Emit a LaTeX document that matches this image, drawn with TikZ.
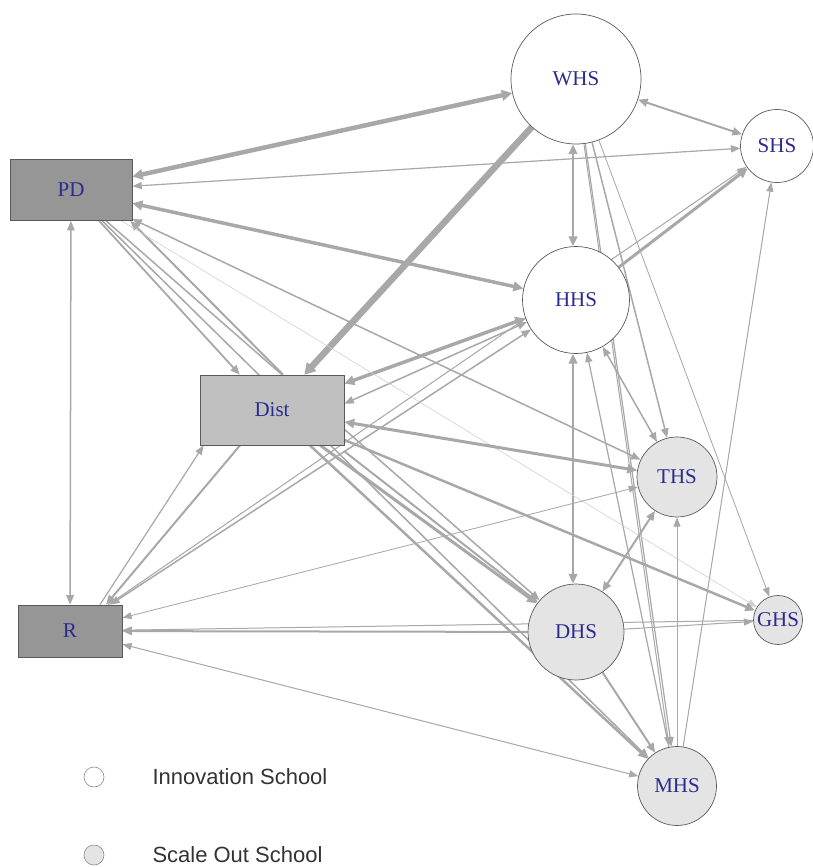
\documentclass[tikz,border=0pt]{standalone}
\usepackage{fontspec}
\setmainfont{Liberation Serif}
\newfontfamily\keyfont{Liberation Sans}
\usepackage{tikz}
\usetikzlibrary{arrows.meta,positioning,backgrounds}
\definecolor{linkgray}{HTML}{A8A8A8}
\definecolor{darkbox}{HTML}{969696}
\definecolor{lightbox}{HTML}{C0C0C0}
\definecolor{scalefill}{HTML}{E4E4E4}
\definecolor{labelblue}{HTML}{2B2B8F}
\definecolor{rimgray}{HTML}{5A5A5A}

\tikzset{
  >={Triangle[length=9pt 0.3,width=6pt 1]},
  lbl/.style={text=labelblue,font=\fontsize{21}{24}\selectfont},
  officebox/.style={lbl,rectangle,draw=rimgray,line width=0.7pt,inner sep=0pt},
  innov/.style={lbl,circle,draw=rimgray,line width=0.7pt,fill=white,inner sep=0pt},
  scaleout/.style={innov,fill=scalefill},
  keydot/.style={circle,draw=rimgray!70,line width=0.6pt,minimum size=20pt,inner sep=0pt},
  keytext/.style={font=\keyfont\fontsize{22}{24}\selectfont,text=black!80,inner sep=0pt,anchor=west},
  tie/.style={draw=linkgray,fill=linkgray,line width=#1},
  tie/.default=1.5pt,
}

\begin{document}
\begin{tikzpicture}[x=1pt,y=-1pt]
  \useasboundingbox (0,0) rectangle (813,867);
  % offices
  \node[officebox,fill=darkbox,minimum width=122pt,minimum height=61pt] (PD) at (71,190) {PD};
  \node[officebox,fill=lightbox,minimum width=144pt,minimum height=70pt] (Dist) at (272,410) {Dist};
  \node[officebox,fill=darkbox,minimum width=104pt,minimum height=52pt] (R) at (70,631) {R};
  % schools
  \node[innov,minimum size=130pt] (WHS) at (576,79) {WHS};
  \node[innov,minimum size=73pt] (SHS) at (777,146) {SHS};
  \node[innov,minimum size=107pt] (HHS) at (576,300) {HHS};
  \node[scaleout,minimum size=80pt] (THS) at (677,477) {THS};
  \node[scaleout,minimum size=96pt] (DHS) at (576,632) {DHS};
  \node[scaleout,minimum size=49pt] (GHS) at (778,620) {GHS};
  \node[scaleout,minimum size=79pt] (MHS) at (677,786) {MHS};
  % legend
  \node[keydot,fill=white] (keyInnov) at (94,777) {};
  \node[keytext,right=48pt of keyInnov] (keyInnovText) {Innovation School};
  \node[keydot,fill=scalefill] (keyScale) at (94,855) {};
  \node[keytext,right=48pt of keyScale] (keyScaleText) {Scale Out School};
  % ties
  \begin{scope}[on background layer]
    \draw[tie=4.5pt,<->] (WHS) -- (PD);
    \draw[tie=6.5pt,->] (WHS) -- (Dist);
    \draw[tie=2pt,<->] (WHS) -- (SHS);
    \draw[tie=2.5pt,<->] ([xshift=-3pt]WHS.south) -- ([xshift=-3pt]HHS.north);
    \draw[tie,->] (WHS) -- (THS);
    \draw[tie=1.2pt,->] (WHS) -- (MHS);
    \draw[tie=1pt,->] ([xshift=8pt]WHS.south) -- ([xshift=-8pt]MHS.north);
    \draw[tie=0.8pt,->] (WHS) -- (GHS);
    \draw[tie=1.2pt,<->] (SHS) -- (PD);
    \draw[tie=3.5pt,<->] (HHS) -- (PD);
    \draw[tie=3pt,->] (HHS) -- (SHS);
    \draw[tie=1pt,->] (R) -- (SHS);
    \draw[tie=1pt,->] (MHS) -- (SHS);
    \draw[tie=3.5pt,<->] (HHS) -- (Dist.20);
    \draw[tie,<->] (HHS) -- (Dist.5);
    \draw[tie,<->] (R) -- (HHS);
    \draw[tie=2.5pt,<->] ([xshift=-3pt]HHS.south) -- ([xshift=-3pt]DHS.north);
    \draw[tie,<->] (HHS) -- (THS);
    \draw[tie=1.2pt,->] (MHS) -- (HHS);
    \draw[tie=1.8pt,->] (PD) -- (Dist);
    \draw[tie=2pt,->] ([xshift=11pt]Dist.north) -- ([xshift=-2pt]PD.south east);
    \draw[tie,->] (PD) -- (MHS);
    \draw[tie,->] (PD) -- (DHS);
    \draw[tie,<->] (PD) -- (R);
    \draw[tie,<->] (THS) -- (PD);
    \draw[tie=0.5pt,draw=linkgray!55,fill=linkgray!55,->] (PD) -- (GHS);
    \draw[tie=3pt,<->] (Dist) -- (THS);
    \draw[tie=2.5pt,->] (Dist) -- (GHS);
    \draw[tie=3pt,->] (Dist) -- (DHS);
    \draw[tie=2pt,->] ([yshift=-6pt]Dist.south east) -- (DHS);
    \draw[tie=2.5pt,->] (Dist) -- (MHS);
    \draw[tie=2pt,->] ([xshift=-32pt]Dist.south) -- ([xshift=36pt]R.north);
    \draw[tie=1.2pt,->] ([xshift=30pt]R.north) -- ([xshift=4pt]Dist.south west);
    \draw[tie=0.8pt,<->] (THS) -- (R);
    \draw[tie=2pt,->] (DHS) -- (R);
    \draw[tie=1pt,->] (GHS) -- (R);
    \draw[tie=1pt,->] (DHS) -- (GHS);
    \draw[tie=2pt,<->] (THS) -- (DHS);
    \draw[tie=1pt,->] (MHS) -- (THS);
    \draw[tie=1pt,<->] (MHS) -- (R);
    \draw[tie=2pt,->] (DHS) -- (MHS);
  \end{scope}
\end{tikzpicture}
\end{document}
